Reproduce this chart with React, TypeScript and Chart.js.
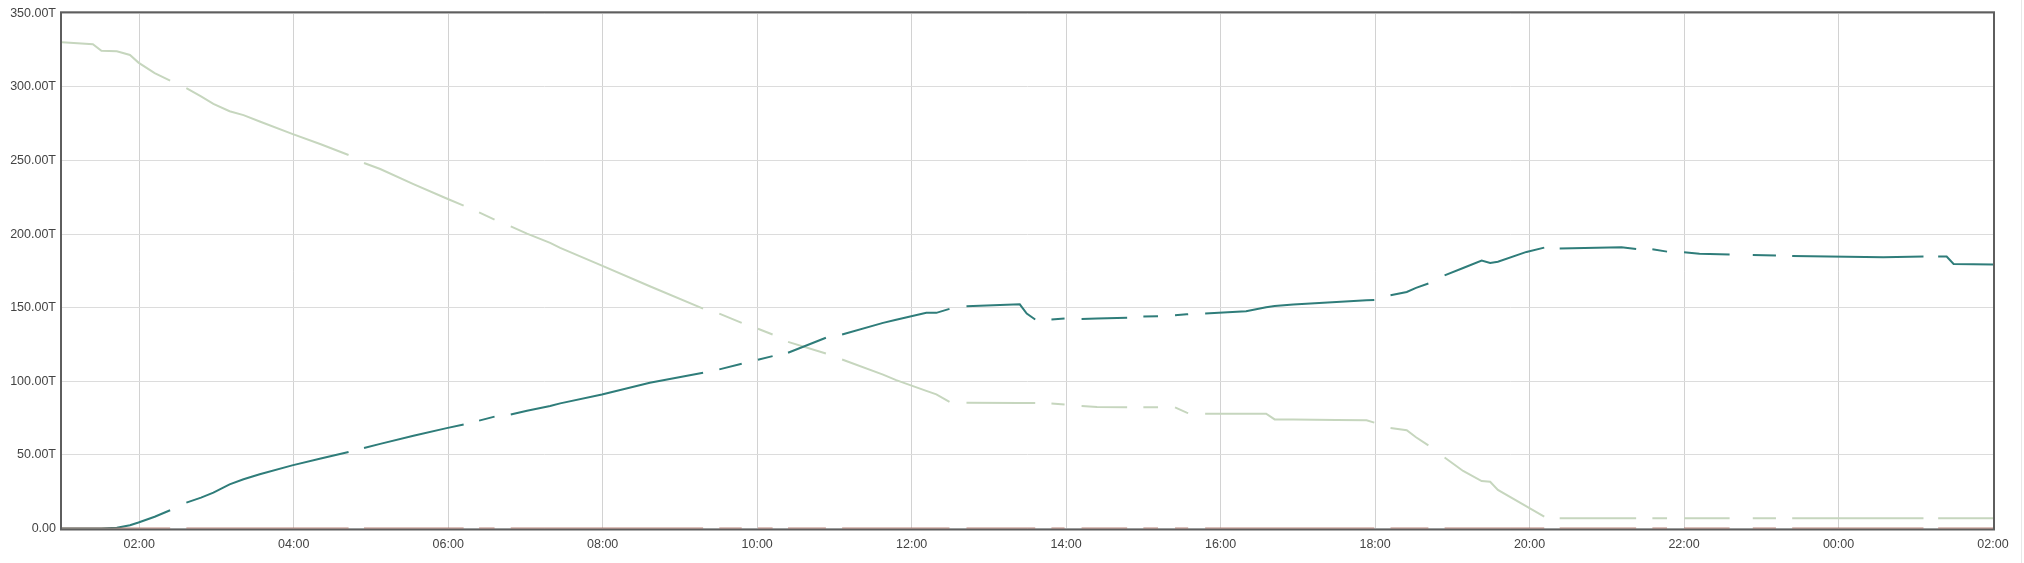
import { useEffect, useRef } from "react";
import { Chart, ChartConfiguration, registerables } from "chart.js";

Chart.register(...registerables);

// sample times in hours from 01:00 (26 = 02:00 next day); null rows are missing samples
const hours = [
  1.0, 1.4, 1.51, 1.71, 1.88, 1.99, 2.2, 2.4, 2.5,
  2.61, 2.8, 2.96, 3.17, 3.35, 3.56, 3.98, 4.35, 4.71, 4.81,
  4.91, 5.12, 5.55, 5.98, 6.2, 6.3,
  6.4, 6.6, 6.7,
  6.81, 7.02, 7.32, 7.45, 7.99, 8.61, 9.3, 9.4,
  9.51, 9.8, 9.9,
  10.01, 10.2, 10.3,
  10.4, 10.89, 11.0,
  11.1, 11.63, 11.8, 12.19, 12.32, 12.49, 12.6,
  12.71, 13.4, 13.49, 13.6, 13.7,
  13.81, 13.98, 14.09,
  14.2, 14.4, 14.79, 14.9,
  15.0, 15.19, 15.3,
  15.41, 15.56, 15.58, 15.69,
  15.8, 16.33, 16.59, 16.7, 16.94, 17.5, 17.89, 17.99, 18.1,
  18.2, 18.41, 18.53, 18.69, 18.8,
  18.9, 19.14, 19.38, 19.49, 19.59, 19.96, 20.19, 20.29,
  20.39, 21.19, 21.38, 21.48,
  21.59, 21.78, 21.89,
  22.0, 22.2, 22.59, 22.74,
  22.89, 23.19, 23.3,
  23.4, 24.58, 25.1, 25.2,
  25.29, 25.4, 25.49, 26.0,
];

const freeValues = [
  330.3, 329.0, 324.6, 324.2, 321.7, 316.5, 309.3, 304.3, null,
  299.1, 293.5, 288.5, 283.5, 280.8, 276.5, 268.1, 261.0, 253.7, null,
  248.3, 244.2, 234.0, 224.2, 219.3, null,
  214.7, 209.8, null,
  205.3, 200.3, 194.0, 190.6, 178.6, 164.6, 149.4, null,
  146.0, 139.7, null,
  135.7, 131.8, null,
  126.8, 118.9, null,
  114.8, 104.5, 100.8, 93.5, 91.1, 86.1, null,
  85.5, 85.3, 85.3, 85.2, null,
  85.0, 84.3, null,
  83.2, 82.5, 82.3, null,
  82.3, 82.3, null,
  82.3, 78.7, 78.5, null,
  78.0, 78.0, 78.0, 74.1, 74.0, 73.7, 73.5, 71.9, null,
  68.2, 66.7, 62.0, 56.5, null,
  48.2, 39.1, 32.2, 31.7, 26.2, 15.0, 8.0, null,
  7.0, 7.0, 7.0, null,
  7.0, 7.0, null,
  7.0, 7.0, 7.0, null,
  7.0, 7.0, null,
  7.0, 7.0, 7.0, null,
  7.0, 7.0, 7.0, 7.0,
];

const usedValues = [
  0, 0, 0, 0.5, 2.2, 4.1, 8.0, 12.4, null,
  17.6, 21.0, 24.4, 30.0, 33.5, 36.8, 42.9, 47.5, 52.0, null,
  54.7, 57.5, 63.0, 68.2, 70.7, null,
  73.3, 76.0, null,
  77.5, 80.0, 83.2, 85.0, 91.1, 99.0, 105.8, null,
  108.1, 111.9, null,
  114.6, 117.1, null,
  119.4, 129.6, null,
  131.8, 139.7, 141.8, 146.5, 146.5, 149.2, null,
  151.0, 152.3, 146.0, 142.0, null,
  142.0, 142.6, null,
  142.4, 142.6, 143.1, null,
  144.0, 144.2, null,
  144.9, 145.5, 145.6, null,
  146.0, 147.6, 150.3, 151.2, 152.1, 153.8, 155.0, 155.3, null,
  158.5, 160.7, 163.5, 166.4, null,
  172.0, 177.0, 182.0, 180.4, 181.2, 187.9, 190.8, null,
  190.3, 191.0, 189.9, null,
  189.7, 188.1, null,
  187.6, 186.7, 186.1, null,
  185.8, 185.4, null,
  185.2, 184.2, 184.7, null,
  184.7, 184.7, 179.7, 179.3,
];

// third series stays at zero, with the same missing samples
const errorValues = freeValues.map((v) => (v === null ? null : 0));

const xTickHours = [2, 4, 6, 8, 10, 12, 14, 16, 18, 20, 22, 24, 26];
const xTickLabels = ["02:00", "04:00", "06:00", "08:00", "10:00", "12:00", "14:00", "16:00", "18:00", "20:00", "22:00", "00:00", "02:00"];

const toPoints = (values: (number | null)[]) => hours.map((h, i) => ({ x: h, y: values[i] }));

const frameBorder = {
  id: "frameBorder",
  beforeDatasetsDraw(chart: Chart) {
    const { ctx, chartArea } = chart;
    ctx.save();
    ctx.strokeStyle = "#5e5e5e";
    ctx.lineWidth = 2;
    ctx.strokeRect(chartArea.left - 1, chartArea.top - 1, chartArea.right - chartArea.left + 2, chartArea.bottom - chartArea.top + 2);
    ctx.restore();
  },
};

function CapacityChart() {
  const canvasRef = useRef<HTMLCanvasElement>(null);
  const chartRef = useRef<Chart | null>(null);

  useEffect(() => {
    if (!canvasRef.current) return;
    const ctx = canvasRef.current.getContext("2d");
    if (!ctx) return;

    if (chartRef.current) {
      chartRef.current.destroy();
    }

    const font = { family: "'Liberation Sans', Arial, sans-serif", size: 12.5 };

    const config: ChartConfiguration = {
      type: "line",
      data: {
        datasets: [
          {
            label: "Errors",
            data: toPoints(errorValues),
            borderColor: "rgba(170, 110, 100, 0.85)",
            borderWidth: 2,
            pointRadius: 0,
            spanGaps: false,
          },
          {
            label: "Used",
            data: toPoints(usedValues),
            borderColor: "#2f7d7a",
            borderWidth: 2,
            pointRadius: 0,
            spanGaps: false,
          },
          {
            label: "Free",
            data: toPoints(freeValues),
            borderColor: "#c6d6be",
            borderWidth: 2,
            pointRadius: 0,
            spanGaps: false,
          },
        ],
      },
      options: {
        responsive: true,
        maintainAspectRatio: false,
        animation: false,
        layout: { padding: { top: 5.3, right: 23, bottom: 0, left: 0 } },
        scales: {
          x: {
            type: "linear",
            min: 1,
            max: 26,
            afterBuildTicks: (scale) => {
              scale.ticks = xTickHours.map((v) => ({ value: v }));
            },
            afterFit: (scale) => {
              scale.height = 26.5;
              scale.paddingLeft = 0;
              scale.paddingRight = 0;
            },
            ticks: {
              autoSkip: false,
              maxRotation: 0,
              padding: 9,
              color: "#444",
              font,
              callback: (value) => xTickLabels[xTickHours.indexOf(Number(value))] ?? "",
            },
            grid: { color: "#d2d2d2", lineWidth: 1, drawTicks: false },
            border: { display: false },
          },
          y: {
            min: 0,
            max: 350,
            afterFit: (scale) => {
              scale.width = 54;
              scale.paddingTop = 0;
              scale.paddingBottom = 0;
            },
            ticks: {
              stepSize: 50,
              padding: 6,
              color: "#444",
              font,
              callback: (value) => (Number(value) === 0 ? "0.00" : `${Number(value).toFixed(2)}T`),
            },
            grid: { color: "#dcdcdc", lineWidth: 1, drawTicks: false },
            border: { display: false },
          },
        },
        plugins: {
          legend: { display: false },
          tooltip: { enabled: false },
        },
      },
      plugins: [frameBorder],
    };

    chartRef.current = new Chart(ctx, config);

    return () => {
      if (chartRef.current) {
        chartRef.current.destroy();
      }
    };
  }, []);

  return (
    <div style={{ position: "relative", height: "547px", width: "2008px" }}>
      <canvas ref={canvasRef}></canvas>
    </div>
  );
}

export default function App() {
  return (
    <>
      <CapacityChart />
      <div style={{ position: "fixed", left: 2021, top: 0, width: 1, height: 563, background: "#e8e8e8" }} />
    </>
  );
}
